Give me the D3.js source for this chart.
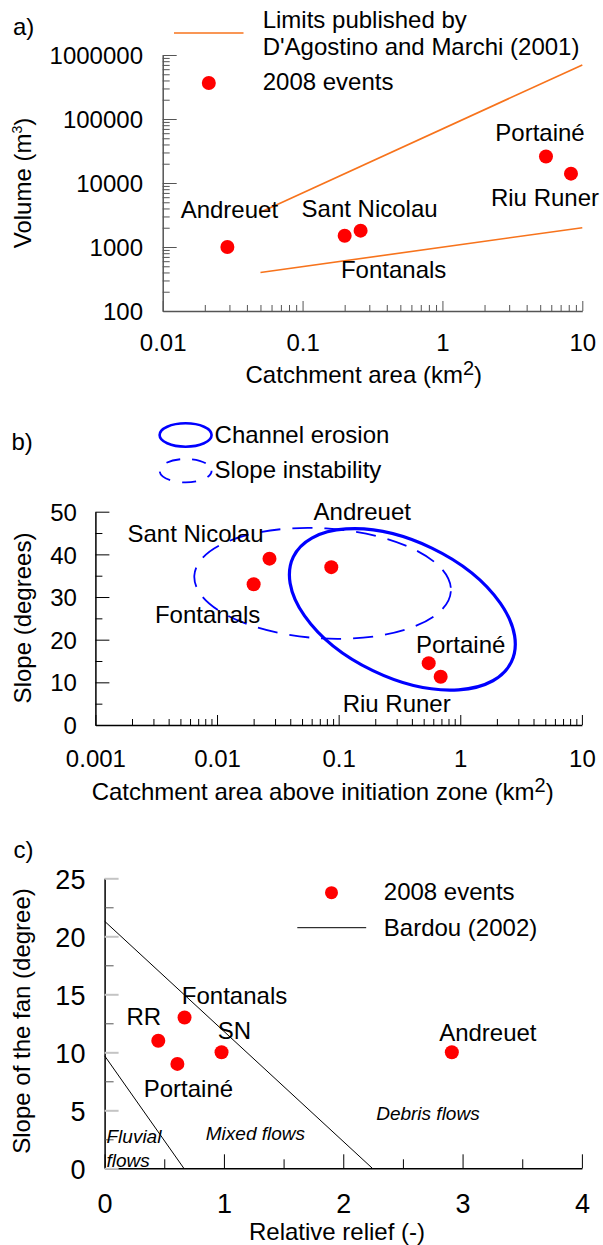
<!DOCTYPE html>
<html>
<head>
<meta charset="utf-8">
<script src="https://cdnjs.cloudflare.com/ajax/libs/d3/7.8.5/d3.min.js"></script>
<style>
body { margin: 0; background: #fff; }
svg text { font-family: "Liberation Sans", Arial, sans-serif; fill: #000; }
</style>
</head>
<body>
<div id="chart"></div>
<script>
// ---- data, panel a) volume vs catchment area
var aNames = ["Andreuet", "Fontanals", "Sant Nicolau", "Portainé", "Riu Runer"];
var aArea = [0.029, 0.2, 0.26, 5.5, 8.3];
var aVolume = [1000, 1500, 1800, 26000, 14000];
var aUpperArea = [0.05, 10], aUpperVolume = [3500, 700000];
var aLowerArea = [0.05, 10], aLowerVolume = [400, 2000];
var aXTicks = [0.01, 0.1, 1, 10];
var aYTicks = [100, 1000, 10000, 100000, 1000000];

// ---- data, panel b) slope vs catchment above initiation zone
var bNames = ["Sant Nicolau", "Fontanals", "Andreuet", "Portainé", "Riu Runer"];
var bArea = [0.027, 0.02, 0.087, 0.55, 0.69];
var bSlope = [39, 33, 37, 14.5, 11.3];
var bXTicks = [0.001, 0.01, 0.1, 1, 10];
var bYTicks = [0, 10, 20, 30, 40, 50];
// ellipse centres (area, slope)
var bChannelCentre = [0.334, 27.1];
var bSlopeCentre = [0.0738, 33.2];

// ---- data, panel c) fan slope vs relative relief
var cNames = ["RR", "Fontanals", "Portainé", "SN", "Andreuet"];
var cRelief = [0.45, 0.67, 0.61, 0.98, 2.91];
var cFanSlope = [11, 13, 9, 10, 10];
var cBardouUpper = [[0, 21.3], [2.244, 0]];
var cBardouLower = [[0, 9.7], [0.664, 0]];
var cXTicks = [0, 1, 2, 3, 4];
var cYTicks = [0, 5, 10, 15, 20, 25];

var RED = "#ff0000", ORANGE = "#f7731c", BLUE = "#0000ff";

var svg = d3.select("#chart").append("svg")
  .attr("width", 603)
  .attr("height", 1245);

function fmt(d) { return String(d); }
function logMinor(scale) {
  return scale.ticks().filter(function(t) {
    var l = Math.log10(t);
    return Math.abs(l - Math.round(l)) > 1e-6;
  });
}
function txt(x, y, s, size, anchor) {
  return svg.append("text").attr("x", x).attr("y", y)
    .attr("font-size", size || 24)
    .attr("text-anchor", anchor || "start")
    .text(s);
}
// bottom axis with inward ticks
function bottomAxis(scale, y, major, minor, col, majLen, minLen, labY, labSize) {
  var g = svg.append("g").attr("transform", "translate(0," + y + ")").attr("color", col);
  g.call(d3.axisBottom(scale).tickValues(major).tickSizeInner(-majLen).tickSizeOuter(0).tickFormat(fmt));
  g.select(".domain").attr("stroke-width", 1.5);
  g.selectAll("text").attr("y", labY).attr("dy", null).attr("font-size", labSize);
  var m = svg.append("g").attr("transform", "translate(0," + y + ")").attr("color", col);
  m.call(d3.axisBottom(scale).tickValues(minor).tickSizeInner(-minLen).tickSizeOuter(0).tickFormat(""));
  m.select(".domain").remove();
  return g;
}
function leftAxis(scale, x, major, minor, col, majLen, minLen, labX, labSize) {
  var g = svg.append("g").attr("transform", "translate(" + x + ",0)").attr("color", col);
  g.call(d3.axisLeft(scale).tickValues(major).tickSizeInner(-majLen).tickSizeOuter(0).tickFormat(fmt));
  g.select(".domain").attr("stroke-width", 1.5);
  g.selectAll("text").attr("x", labX).attr("dy", "0.36em").attr("font-size", labSize);
  var m = svg.append("g").attr("transform", "translate(" + x + ",0)").attr("color", col);
  m.call(d3.axisLeft(scale).tickValues(minor).tickSizeInner(-minLen).tickSizeOuter(0).tickFormat(""));
  m.select(".domain").remove();
  return g;
}

// ================= a) =================
var xa = d3.scaleLog().domain([0.01, 10]).range([162.7, 582.3]);
var ya = d3.scaleLog().domain([100, 1000000]).range([311, 55]);

bottomAxis(xa, 311, aXTicks, logMinor(xa), "#555", 10, 6, 40, 24);
leftAxis(ya, 162.7, aYTicks, logMinor(ya), "#555", 14, 7, -19.7, 24);

var lineA = d3.line().x(function(d) { return xa(d[0]); }).y(function(d) { return ya(d[1]); });
svg.append("path").datum(d3.zip(aUpperArea, aUpperVolume))
  .attr("d", lineA).attr("fill", "none").attr("stroke", ORANGE).attr("stroke-width", 1.6);
svg.append("path").datum(d3.zip(aLowerArea, aLowerVolume))
  .attr("d", lineA).attr("fill", "none").attr("stroke", ORANGE).attr("stroke-width", 1.6);

svg.selectAll(".pa").data(aArea).enter().append("circle")
  .attr("cx", function(d) { return xa(d); })
  .attr("cy", function(d, i) { return ya(aVolume[i]); })
  .attr("r", 7).attr("fill", RED);

// label offsets from each point (px)
var aLabelOff = [[2, -29], [49, 42], [9, -14], [-6, -15], [-26, 32]];
aNames.forEach(function(n, i) {
  txt(xa(aArea[i]) + aLabelOff[i][0], ya(aVolume[i]) + aLabelOff[i][1], n, 24, "middle");
});

txt(13, 35, "a)", 24);
svg.append("line").attr("x1", 174).attr("x2", 243.5).attr("y1", 33).attr("y2", 33)
  .attr("stroke", ORANGE).attr("stroke-width", 1.6);
txt(262.7, 28, "Limits published by", 24);
txt(262.7, 55, "D'Agostino and Marchi (2001)", 24);
svg.append("circle").attr("cx", 208.8).attr("cy", 83).attr("r", 7).attr("fill", RED);
txt(262.7, 90, "2008 events", 24);

var ta = txt(363.8, 383, "Catchment area (km", 24, "middle");
ta.append("tspan").attr("dy", -8).attr("font-size", 20).text("2");
ta.append("tspan").attr("dy", 8).text(")");

var va = svg.append("text").attr("transform", "translate(31,183) rotate(-90)")
  .attr("text-anchor", "middle").attr("font-size", 24).text("Volume (m");
va.append("tspan").attr("dy", -9).attr("font-size", 14).text("3");
va.append("tspan").attr("dy", 9).text(")");

// ================= b) =================
var xb = d3.scaleLog().domain([0.001, 10]).range([95.4, 581.9]);
var yb = d3.scaleLinear().domain([0, 50]).range([725, 511.7]);

bottomAxis(xb, 725, bXTicks, logMinor(xb), "#000", 10, 6, 42, 24);
leftAxis(yb, 95.4, bYTicks, [5, 15, 25, 35, 45], "#000", 14, 7, -18.5, 24);

// channel erosion ellipse (solid) and slope instability ellipse (dashed)
var cxc = xb(bChannelCentre[0]), cyc = yb(bChannelCentre[1]);
svg.append("ellipse").attr("cx", cxc).attr("cy", cyc).attr("rx", 121).attr("ry", 68)
  .attr("transform", "rotate(25.7," + cxc + "," + cyc + ")")
  .attr("fill", "none").attr("stroke", BLUE).attr("stroke-width", 3.2);
var cxs = xb(bSlopeCentre[0]), cys = yb(bSlopeCentre[1]);
svg.append("ellipse").attr("cx", cxs).attr("cy", cys).attr("rx", 128.5).attr("ry", 55)
  .attr("transform", "rotate(3.5," + cxs + "," + cys + ")")
  .attr("fill", "none").attr("stroke", BLUE).attr("stroke-width", 1.8)
  .attr("stroke-dasharray", "20,12");

svg.selectAll(".pb").data(bArea).enter().append("circle")
  .attr("cx", function(d) { return xb(d); })
  .attr("cy", function(d, i) { return yb(bSlope[i]); })
  .attr("r", 7).attr("fill", RED);

var bLabelOff = [[-74, -17], [-46, 39], [31, -47], [32, -10], [-44, 35]];
bNames.forEach(function(n, i) {
  txt(xb(bArea[i]) + bLabelOff[i][0], yb(bSlope[i]) + bLabelOff[i][1], n, 24, "middle");
});

txt(11.5, 450, "b)", 24);
svg.append("ellipse").attr("cx", 185.6).attr("cy", 435).attr("rx", 26).attr("ry", 11.7)
  .attr("fill", "none").attr("stroke", BLUE).attr("stroke-width", 2.6);
txt(214.6, 442.7, "Channel erosion", 24);
svg.append("ellipse").attr("cx", 185.6).attr("cy", 470.7).attr("rx", 26).attr("ry", 11.7)
  .attr("fill", "none").attr("stroke", BLUE).attr("stroke-width", 1.8)
  .attr("stroke-dasharray", "14,12").attr("stroke-dashoffset", 6);
txt(214.6, 478, "Slope instability", 24);

var tb = txt(322.7, 800, "Catchment area above initiation zone (km", 24, "middle");
tb.append("tspan").attr("dy", -8).attr("font-size", 20).text("2");
tb.append("tspan").attr("dy", 8).text(")");
svg.append("text").attr("transform", "translate(31,618) rotate(-90)")
  .attr("text-anchor", "middle").attr("font-size", 24).text("Slope (degrees)");

// ================= c) =================
var xc = d3.scaleLinear().domain([0, 4]).range([104.6, 581.9]);
var yc = d3.scaleLinear().domain([0, 25]).range([1168.3, 878.3]);

bottomAxis(xc, 1168.3, cXTicks, [0.5, 1.5, 2.5, 3.5], "#000", 14, 9, 45, 27);
var gyc = leftAxis(yc, 104.6, cYTicks, [2.5, 7.5, 12.5, 17.5, 22.5], "#555", 14, 9, -19.2, 27);
gyc.selectAll(".tick line").attr("stroke", "#c4c4c4").attr("stroke-width", 2);
gyc.select(".domain").attr("stroke", "#000");

var lineC = d3.line().x(function(d) { return xc(d[0]); }).y(function(d) { return yc(d[1]); });
[cBardouUpper, cBardouLower].forEach(function(l) {
  svg.append("path").datum(l).attr("d", lineC)
    .attr("fill", "none").attr("stroke", "#000").attr("stroke-width", 1);
});

svg.selectAll(".pc").data(cRelief).enter().append("circle")
  .attr("cx", function(d) { return xc(d); })
  .attr("cy", function(d, i) { return yc(cFanSlope[i]); })
  .attr("r", 7).attr("fill", RED);

var cLabelOff = [[-14.5, -16], [50, -13.5], [11, 33], [13, -13], [36, -11]];
cNames.forEach(function(n, i) {
  txt(xc(cRelief[i]) + cLabelOff[i][0], yc(cFanSlope[i]) + cLabelOff[i][1], n, 24, "middle");
});

// flow regime annotations (relief, slope)
var cZones = [["Debris flows", 2.276, 4.16], ["Mixed flows", 0.848, 2.44],
              ["Fluvial", 0.016, 2.16], ["flows", 0.016, 0.14]];
cZones.forEach(function(z) {
  txt(xc(z[1]), yc(z[2]), z[0], 19).attr("font-style", "italic");
});

txt(13.5, 858, "c)", 24);
svg.append("circle").attr("cx", 331.5).attr("cy", 892.7).attr("r", 6.5).attr("fill", RED);
txt(383.8, 900, "2008 events", 24);
svg.append("line").attr("x1", 297.3).attr("x2", 366.2).attr("y1", 927.7).attr("y2", 927.7)
  .attr("stroke", "#000").attr("stroke-width", 1);
txt(383.8, 936, "Bardou (2002)", 24);

txt(337, 1240, "Relative relief (-)", 24, "middle");
svg.append("text").attr("transform", "translate(30,1021) rotate(-90)")
  .attr("text-anchor", "middle").attr("font-size", 24).text("Slope of the fan (degree)");
</script>
</body>
</html>
